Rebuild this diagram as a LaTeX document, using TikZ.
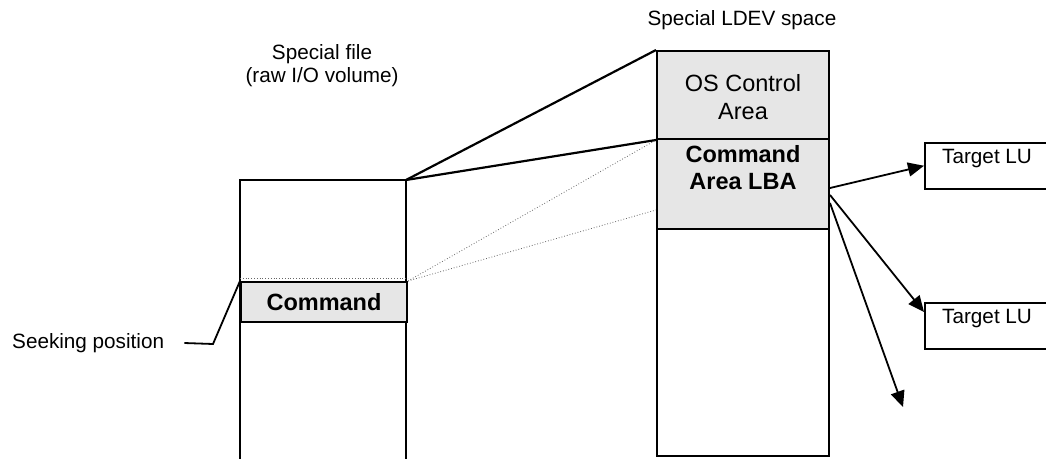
\documentclass[tikz,border=0pt]{standalone}
\usepackage{fontspec}
\setmainfont{Liberation Sans}
\usetikzlibrary{arrows.meta,positioning}
\definecolor{areagray}{RGB}{230,230,230}
\tikzstyle{area} = [rectangle, draw=black, line width=2pt, fill=areagray, inner sep=0pt, anchor=north west]
\tikzstyle{column} = [rectangle, draw=black, line width=2pt, inner sep=0pt, anchor=north west]
\tikzstyle{lu} = [rectangle, draw=black, line width=1.5pt, fill=white, minimum width=130pt, minimum height=46pt, inner sep=0pt, anchor=north west]
\tikzstyle{txt} = [font=\fontsize{20.7}{23}\selectfont, align=center, inner sep=0pt]
\tikzstyle{big txt} = [font=\fontsize{23.5}{27.5}\selectfont, align=center, inner sep=0pt]
\tikzstyle{big btxt} = [font=\fontsize{23.5}{27.5}\selectfont\bfseries, align=center, inner sep=0pt]
\tikzstyle{solid link} = [draw, line width=2.2pt]
\tikzstyle{dot link} = [draw, black!60, dotted, line width=0.8pt]
\tikzstyle{tedge} = [draw, line width=1.8pt, -{Triangle[length=16pt,width=14pt]}]

\begin{document}
\begin{tikzpicture}[x=1pt,y=-1pt]
\useasboundingbox (0,0) rectangle (1046,458);
\clip (0,0) rectangle (1046,458);

% titles ==================================
\node[txt] (fileTitle) at (322,66) {Special file\\(raw I/O volume)};
\node[txt] (ldevTitle) at (742,20) {Special LDEV space};

% special file (open at the bottom)
\coordinate (fileTL) at (240,180);
\coordinate (fileTR) at (406,180);
\coordinate (fileBL) at (240,462);
\coordinate (fileBR) at (406,462);
\draw[line width=2.2pt] (fileBL) -- (fileTL) -- (fileTR) -- (fileBR);
\node[area, minimum width=166pt, minimum height=40pt] (cmd) at (240,281) {};
\node[big btxt] (cmdText) at (cmd) {Command};
\path[dot link] ([yshift=3pt]cmd.north west) -- ([yshift=3pt]cmd.north east);

% seeking position
\node[txt, anchor=west] (seek) at (12,343) {Seeking position};
\coordinate (seekBend) at (213,344);
\draw[line width=1.8pt] ([xshift=20pt]seek.east) -- (seekBend) -- (cmd.north west);

% special LDEV space
\node[column, minimum width=172pt, minimum height=405pt] (ldev) at (656,50) {};
\node[area, minimum width=172pt, minimum height=88pt] (osArea) at (656,50) {};
\node[big txt] (osText) at ([yshift=-2pt]osArea) {OS Control\\Area};
\node[area, minimum width=172pt, minimum height=90pt] (cmdArea) at (656,138) {};
\node[big btxt, below=7pt of cmdArea.north] (cmdAreaText) {Command\\Area LBA};

% target LUs
\node[lu] (lu1) at (924,142) {};
\node[txt, anchor=north west] (lu1Text) at ([xshift=18pt,yshift=-7pt]lu1.north west) {Target LU};
\node[lu] (lu2) at (924,302) {};
\node[txt, anchor=north west] (lu2Text) at ([xshift=18pt,yshift=-7pt]lu2.north west) {Target LU};
\coordinate (luFree) at (903,407);

%edges
\path[solid link] (fileTR) -- (osArea.north west);
\path[solid link] (fileTR) -- (osArea.south west);
\path[dot link] (cmd.north east) -- ([yshift=-2pt]cmdArea.north west);
\path[dot link] (cmd.north east) -- ([yshift=-72pt]cmdArea.north west);

\path[tedge] ([yshift=-50pt]cmdArea.north east) -- (lu1.west);
\path[tedge] ([yshift=-57pt]cmdArea.north east) -- ([yshift=-10pt]lu2.north west);
\path[tedge] ([yshift=-65pt]cmdArea.north east) -- (luFree);

\end{tikzpicture}
\end{document}
